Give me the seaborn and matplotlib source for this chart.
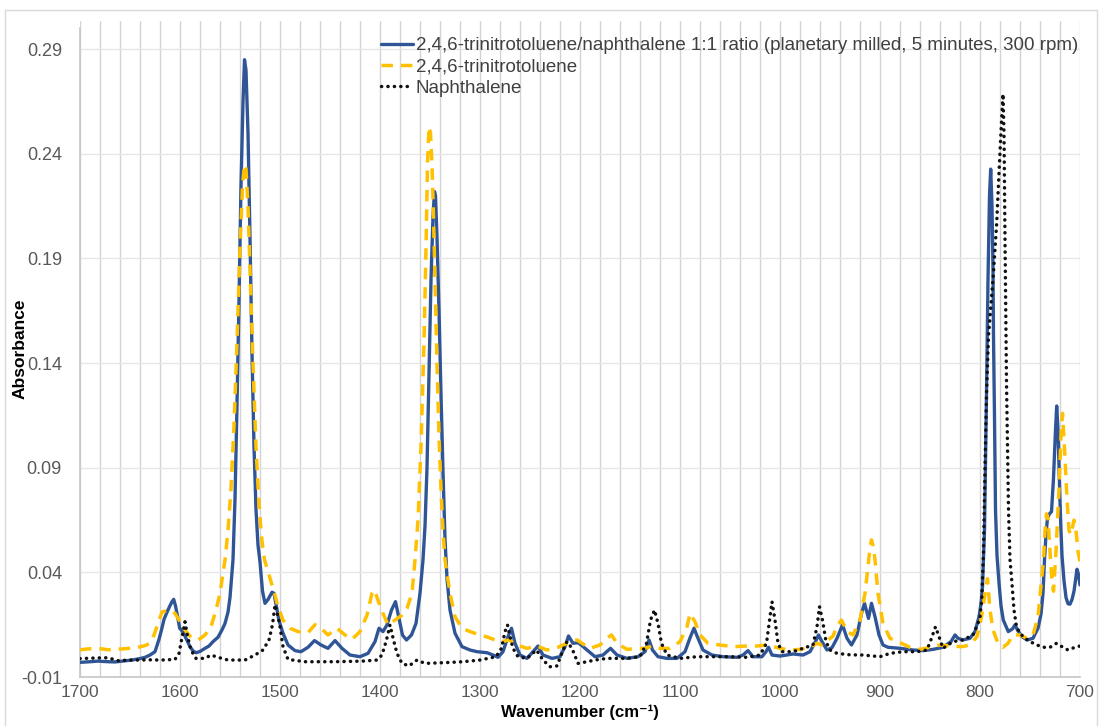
import numpy as np
import pandas as pd
import matplotlib
matplotlib.use("Agg")
import matplotlib.pyplot as plt
from matplotlib.patches import Rectangle
from matplotlib.ticker import MultipleLocator, FixedLocator, FormatStrFormatter
import seaborn as sns

# ---- FTIR spectra (wavenumber in cm-1, absorbance) ----
mixture_wn = [
    1700, 1690, 1682, 1672, 1665, 1655, 1648, 1640, 1635, 1630,
    1625, 1621, 1618.5, 1616, 1613.5, 1610.5, 1608, 1606.3, 1604.5, 1602.7,
    1600.3, 1597, 1593, 1590, 1587, 1584, 1580, 1575, 1571, 1567,
    1562, 1558, 1555, 1552, 1550, 1548.5, 1547, 1545, 1543, 1541,
    1539, 1537, 1535.5, 1534, 1532, 1530, 1528, 1526, 1524, 1522,
    1520, 1517.5, 1515, 1512, 1508, 1506, 1503.5, 1501, 1497, 1492,
    1485, 1479, 1472, 1465.5, 1459, 1452, 1445, 1438, 1430, 1420,
    1412, 1405, 1401, 1397, 1393, 1388.5, 1384.5, 1381, 1377.5, 1373.5,
    1368.5, 1364, 1360, 1357, 1355, 1353, 1351, 1349, 1347, 1345.5,
    1344.5, 1343, 1341, 1339, 1337, 1335, 1333, 1330, 1325, 1318,
    1310, 1303, 1293, 1287, 1282, 1277, 1272, 1268.5, 1265, 1260,
    1253, 1247, 1242, 1237, 1228, 1220, 1215, 1211.5, 1207, 1202,
    1198, 1193, 1185, 1177, 1169.5, 1163, 1153, 1142, 1135, 1131,
    1127.5, 1122, 1113, 1103, 1095, 1089.5, 1086, 1082, 1077, 1068,
    1057, 1043, 1037, 1032, 1027, 1018, 1014, 1011.5, 1008, 1000,
    987, 977, 970, 965, 961.5, 958, 953, 948, 943, 937.5,
    933, 928.5, 923, 918.5, 915.5, 911.5, 908.5, 905, 901, 897,
    892, 880, 867, 857, 847, 837, 829, 825, 822, 817,
    810, 805, 801, 799, 797.5, 795.5, 793.5, 792, 790.5, 789.3,
    788, 787, 786.5, 785.5, 784.5, 783, 781, 779, 776.7, 771.7,
    767.5, 765, 762, 758, 753, 747, 742, 739, 737, 735.5,
    734, 732.5, 730.5, 728.5, 726.5, 724.5, 723.3, 722, 721, 720,
    719, 718, 716, 714, 712, 710, 708, 706, 704, 703,
    701.5, 700,
]
mixture_abs = [
    -0.0030, -0.0027, -0.0024, -0.0027, -0.0028, -0.0023, -0.0019, -0.0012, -0.0006, 0.0005,
    0.0021, 0.0080, 0.0125, 0.0175, 0.0204, 0.0236, 0.0260, 0.0271, 0.0240, 0.0196,
    0.0133, 0.0115, 0.0075, 0.0045, 0.0025, 0.0016, 0.0022, 0.0037, 0.0048, 0.0069,
    0.0090, 0.0125, 0.0156, 0.0210, 0.0280, 0.0370, 0.0460, 0.0750, 0.1200, 0.1700,
    0.2250, 0.2650, 0.2850, 0.2800, 0.2500, 0.2000, 0.1450, 0.1000, 0.0700, 0.0530,
    0.0450, 0.0310, 0.0252, 0.0270, 0.0305, 0.0300, 0.0235, 0.0170, 0.0109, 0.0053,
    0.0026, 0.0021, 0.0042, 0.0074, 0.0053, 0.0037, 0.0074, 0.0037, 0.0005, -0.0003,
    0.0013, 0.0069, 0.0133, 0.0117, 0.0149, 0.0220, 0.0260, 0.0180, 0.0100, 0.0077,
    0.0101, 0.0156, 0.0300, 0.0460, 0.0620, 0.0900, 0.1350, 0.1800, 0.2100, 0.2220,
    0.2200, 0.2000, 0.1650, 0.1250, 0.0880, 0.0560, 0.0370, 0.0220, 0.0109, 0.0045,
    0.0029, 0.0021, 0.0016, 0.0005, -0.0006, 0.0021, 0.0093, 0.0133, 0.0061, 0.0005,
    -0.0011, 0.0021, 0.0048, 0.0005, -0.0011, -0.0003, 0.0045, 0.0096, 0.0061, 0.0064,
    0.0050, 0.0029, -0.0003, 0.0005, 0.0037, 0.0005, -0.0011, -0.0003, 0.0021, 0.0077,
    0.0029, -0.0003, -0.0011, -0.0011, 0.0021, 0.0093, 0.0133, 0.0085, 0.0029, 0.0005,
    -0.0003, -0.0006, 0.0005, 0.0026, -0.0003, -0.0003, 0.0021, 0.0042, 0.0005, 0.0000,
    0.0010, 0.0005, 0.0021, 0.0064, 0.0101, 0.0069, 0.0029, 0.0040, 0.0085, 0.0149,
    0.0085, 0.0053, 0.0101, 0.0204, 0.0252, 0.0180, 0.0252, 0.0188, 0.0101, 0.0053,
    0.0042, 0.0037, 0.0029, 0.0026, 0.0032, 0.0042, 0.0069, 0.0101, 0.0085, 0.0077,
    0.0085, 0.0117, 0.0188, 0.0250, 0.0332, 0.0600, 0.1250, 0.1800, 0.2200, 0.2327,
    0.2150, 0.1850, 0.1530, 0.1140, 0.0700, 0.0480, 0.0350, 0.0240, 0.0172, 0.0117,
    0.0130, 0.0149, 0.0120, 0.0093, 0.0077, 0.0085, 0.0133, 0.0200, 0.0300, 0.0460,
    0.0580, 0.0660, 0.0680, 0.0690, 0.0850, 0.1080, 0.1195, 0.1080, 0.0900, 0.0740,
    0.0600, 0.0480, 0.0360, 0.0280, 0.0250, 0.0248, 0.0270, 0.0310, 0.0380, 0.0415,
    0.0390, 0.0340,
]

tnt_wn = [
    1700, 1690, 1682, 1672, 1665, 1655, 1642, 1635, 1630, 1626,
    1622, 1618, 1612, 1608, 1605, 1600, 1595, 1590, 1586, 1582,
    1578, 1575, 1569, 1564, 1560, 1557, 1555, 1552, 1549, 1546,
    1543, 1540, 1537.5, 1535.5, 1534, 1532, 1530, 1527, 1524, 1521,
    1518, 1515.5, 1510.5, 1505.5, 1502, 1497, 1490, 1482, 1472, 1465,
    1459, 1452, 1443, 1435, 1428, 1420, 1413, 1408, 1405.5, 1401.5,
    1397, 1392, 1385, 1378, 1373, 1368, 1365, 1362, 1359, 1356,
    1354, 1352.5, 1351, 1349.5, 1348, 1346.5, 1345, 1343, 1341, 1339,
    1337, 1335, 1330, 1325, 1318, 1310, 1300, 1292, 1285, 1278,
    1271, 1263, 1253, 1243, 1233, 1222, 1213, 1203, 1196, 1190,
    1180, 1173, 1168.5, 1163, 1153, 1143, 1135, 1128, 1120, 1110,
    1100, 1093, 1090, 1085, 1080, 1072, 1060, 1047, 1033, 1023,
    1013, 1000, 990, 980, 970, 963, 958, 952, 947, 943,
    938.5, 933, 927, 920, 915, 912, 910, 908.5, 906.5, 905,
    902, 897, 890, 880, 870, 860, 850, 840, 830, 818,
    810, 803, 798.5, 795, 792.5, 790, 787, 782, 777, 772,
    767, 760, 753, 747, 742, 738.5, 736.5, 735, 733.5, 732,
    730, 728, 726.5, 724, 721, 719, 717.5, 715, 713, 711,
    709, 706, 704, 702, 700,
]
tnt_abs = [
    0.0030, 0.0035, 0.0037, 0.0030, 0.0032, 0.0035, 0.0042, 0.0050, 0.0061, 0.0100,
    0.0156, 0.0210, 0.0220, 0.0215, 0.0204, 0.0164, 0.0125, 0.0095, 0.0082, 0.0077,
    0.0090, 0.0101, 0.0140, 0.0220, 0.0300, 0.0395, 0.0460, 0.0600, 0.0800, 0.1100,
    0.1500, 0.1950, 0.2250, 0.2350, 0.2330, 0.2150, 0.1850, 0.1400, 0.1000, 0.0720,
    0.0550, 0.0460, 0.0380, 0.0300, 0.0236, 0.0172, 0.0133, 0.0117, 0.0112, 0.0150,
    0.0133, 0.0101, 0.0133, 0.0101, 0.0080, 0.0117, 0.0196, 0.0300, 0.0316, 0.0260,
    0.0204, 0.0149, 0.0172, 0.0196, 0.0228, 0.0300, 0.0460, 0.0650, 0.1000, 0.1500,
    0.1950, 0.2350, 0.2530, 0.2500, 0.2350, 0.2100, 0.1800, 0.1400, 0.1050, 0.0800,
    0.0600, 0.0460, 0.0300, 0.0188, 0.0133, 0.0117, 0.0101, 0.0090, 0.0077, 0.0069,
    0.0077, 0.0053, 0.0037, 0.0048, 0.0029, 0.0042, 0.0061, 0.0077, 0.0055, 0.0037,
    0.0053, 0.0085, 0.0101, 0.0061, 0.0032, 0.0037, 0.0037, 0.0048, 0.0037, 0.0037,
    0.0069, 0.0140, 0.0204, 0.0164, 0.0101, 0.0061, 0.0053, 0.0045, 0.0048, 0.0048,
    0.0053, 0.0037, 0.0029, 0.0032, 0.0042, 0.0061, 0.0053, 0.0077, 0.0095, 0.0145,
    0.0172, 0.0117, 0.0101, 0.0172, 0.0300, 0.0427, 0.0520, 0.0555, 0.0520, 0.0460,
    0.0300, 0.0156, 0.0085, 0.0064, 0.0042, 0.0032, 0.0042, 0.0053, 0.0048, 0.0045,
    0.0053, 0.0093, 0.0188, 0.0300, 0.0370, 0.0220, 0.0125, 0.0061, 0.0042, 0.0061,
    0.0101, 0.0101, 0.0085, 0.0101, 0.0188, 0.0364, 0.0460, 0.0600, 0.0680, 0.0660,
    0.0500, 0.0360, 0.0310, 0.0500, 0.0800, 0.1050, 0.1160, 0.0950, 0.0750, 0.0600,
    0.0580, 0.0650, 0.0600, 0.0500, 0.0450,
]

naphthalene_wn = [
    1700, 1695, 1683, 1672, 1662, 1650, 1642, 1630, 1619, 1605,
    1601, 1597.5, 1595, 1592.5, 1589, 1584, 1575, 1569, 1562, 1552,
    1535, 1525, 1517, 1511, 1507.5, 1505, 1503, 1500.5, 1497, 1492,
    1475, 1445, 1417, 1403, 1398, 1393.5, 1390, 1386.5, 1383, 1378,
    1371, 1363, 1355, 1333, 1317, 1300, 1284, 1278.5, 1275, 1272.5,
    1270, 1267, 1262, 1253, 1243.5, 1237, 1230, 1223, 1217, 1213,
    1208, 1202, 1193, 1185, 1173, 1153, 1140, 1133.5, 1129.5, 1125.5,
    1122, 1118.5, 1113, 1100, 1083, 1050, 1033, 1020, 1013.5, 1010,
    1008, 1005, 1002, 998, 987, 977, 967, 963, 960.5, 957.5,
    954, 950, 943, 930, 917, 900, 890, 877, 863, 853,
    848.5, 844.5, 841, 837, 827, 817, 807, 802, 800, 798.3,
    796.5, 795, 793.5, 791.5, 786.7, 783.3, 780.7, 778.5, 777, 776,
    775, 773.5, 771.5, 770, 768.3, 766, 763.5, 760, 755, 750,
    743, 737, 730, 723.5, 717, 712, 705, 700,
]
naphthalene_abs = [
    -0.0012, -0.0011, -0.0009, -0.0008, -0.0022, -0.0019, -0.0019, -0.0018, -0.0019, -0.0016,
    0.0013, 0.0100, 0.0164, 0.0095, 0.0029, -0.0011, -0.0011, 0.0005, -0.0006, -0.0019,
    -0.0019, 0.0005, 0.0029, 0.0077, 0.0150, 0.0245, 0.0210, 0.0156, 0.0045, -0.0016,
    -0.0027, -0.0027, -0.0024, -0.0019, 0.0005, 0.0077, 0.0149, 0.0077, 0.0013, -0.0035,
    -0.0047, -0.0019, -0.0035, -0.0031, -0.0027, -0.0019, -0.0003, 0.0037, 0.0117, 0.0149,
    0.0093, 0.0037, -0.0003, -0.0011, 0.0029, -0.0019, -0.0051, -0.0047, 0.0029, 0.0069,
    0.0037, -0.0035, -0.0027, -0.0019, -0.0011, -0.0011, -0.0003, 0.0061, 0.0172, 0.0220,
    0.0156, 0.0061, 0.0005, -0.0011, -0.0003, -0.0003, -0.0006, 0.0005, 0.0061, 0.0188,
    0.0260, 0.0172, 0.0061, 0.0021, 0.0021, 0.0037, 0.0053, 0.0140, 0.0236, 0.0172,
    0.0069, 0.0029, 0.0013, 0.0006, 0.0005, -0.0003, 0.0013, 0.0021, 0.0021, 0.0029,
    0.0085, 0.0140, 0.0093, 0.0037, 0.0069, 0.0077, 0.0101, 0.0156, 0.0187, 0.0268,
    0.0500, 0.0900, 0.1250, 0.1530, 0.1820, 0.2070, 0.2340, 0.2553, 0.2686, 0.2500,
    0.1995, 0.1310, 0.0700, 0.0460, 0.0364, 0.0220, 0.0140, 0.0109, 0.0085, 0.0069,
    0.0053, 0.0042, 0.0042, 0.0061, 0.0042, 0.0029, 0.0042, 0.0048,
]

series_labels = [
    "2,4,6-trinitrotoluene/naphthalene 1:1 ratio (planetary milled, 5 minutes, 300 rpm)",
    "2,4,6-trinitrotoluene",
    "Naphthalene",
]
y_tick_values = [-0.01, 0.04, 0.09, 0.14, 0.19, 0.24, 0.29]

# ---- styling ----
sns.set_theme(style="white")
plt.rcParams["font.family"] = ["Liberation Sans", "DejaVu Sans"]

fig = plt.figure(figsize=(11, 7.26), dpi=100)
fig.patch.set_facecolor("white")
ax = fig.add_axes([80 / 1100, 49 / 726, 1000 / 1100, 656 / 726])

frames = [
    pd.DataFrame({"wavenumber": mixture_wn, "absorbance": mixture_abs}),
    pd.DataFrame({"wavenumber": tnt_wn, "absorbance": tnt_abs}),
    pd.DataFrame({"wavenumber": naphthalene_wn, "absorbance": naphthalene_abs}),
]
styles = [
    dict(color="#2F5597", linewidth=2.4, linestyle="-", solid_joinstyle="round"),
    dict(color="#FFC000", linewidth=2.5, linestyle=(0, (3.3, 2.3)), dash_capstyle="butt"),
    dict(color="#111111", linewidth=2.5, linestyle=(0, (0.05, 1.8)), dash_capstyle="round"),
]
for df, label, st, z in zip(frames, series_labels, styles, [3, 4, 5]):
    sns.lineplot(data=df, x="wavenumber", y="absorbance", ax=ax, label=label,
                 sort=False, estimator=None, zorder=z, **st)

ax.set_xlim(1700, 700)
ax.set_ylim(-0.01, 0.3035)

ax.xaxis.set_major_locator(MultipleLocator(100))
ax.xaxis.set_minor_locator(MultipleLocator(20))
ax.yaxis.set_major_locator(FixedLocator(y_tick_values))
ax.yaxis.set_minor_locator(FixedLocator(np.round(np.arange(-0.01, 0.3001, 0.01), 2)))
ax.yaxis.set_major_formatter(FormatStrFormatter("%.2f"))

ax.grid(which="both", axis="x", color="#d3d3d3", linewidth=1.0, zorder=0)
ax.grid(which="major", axis="y", color="#e6e6e6", linewidth=1.0, zorder=0)
ax.set_axisbelow(True)

for side in ["top", "right"]:
    ax.spines[side].set_visible(False)
ax.spines["left"].set_color("#c8c8c8")
ax.spines["bottom"].set_color("#c8c8c8")
ax.spines["left"].set_bounds(-0.01, 0.30)

ax.tick_params(axis="both", which="both", direction="out", color="#c8c8c8",
               length=4, width=1, labelsize=13, labelcolor="#595959")
ax.tick_params(axis="y", which="major", pad=9)
ax.tick_params(axis="x", which="major", pad=2, labelsize=12.5)

ax.set_xlabel("Wavenumber (cm\u207b\u00b9)", fontsize=12, fontweight="bold",
              color="black")
ax.set_ylabel("Absorbance", fontsize=12.5, fontweight="bold", color="black")
ax.xaxis.set_label_coords(0.5, -0.0415)
ax.yaxis.set_label_coords(-0.052, 0.5)

leg = ax.legend(loc="upper right", bbox_to_anchor=(1.014, 1.0), frameon=False,
                fontsize=13.5, handlelength=1.7, handletextpad=0.15,
                labelspacing=0.22, borderaxespad=0.0, borderpad=0.85)
for t in leg.get_texts():
    t.set_color("#404040")

# light chart border
fig.patches.append(Rectangle((5 / 1100, -0.02), 1092 / 1100, 1.0 - 10 / 726 + 0.02,
                             transform=fig.transFigure, fill=False,
                             edgecolor="#d9d9d9", linewidth=1.0))

fig.savefig("out.png", dpi=100)
